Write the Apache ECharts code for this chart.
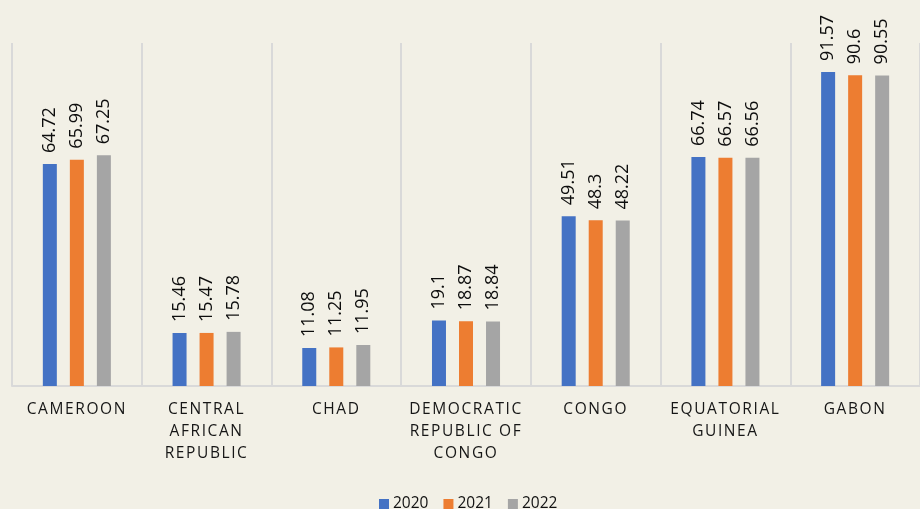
<!DOCTYPE html>
<html>
<head>
<meta charset="utf-8">
<script src="https://cdn.jsdelivr.net/npm/echarts@6/dist/echarts.min.js"></script>
<style>
html,body{margin:0;padding:0;background:#f2f0e6;}
#chart{width:920px;height:509px;}
</style>
</head>
<body>
<div id="chart"></div>
<script>
var categories = ['CAMEROON', 'CENTRAL\nAFRICAN\nREPUBLIC', 'CHAD', 'DEMOCRATIC\nREPUBLIC OF\nCONGO', 'CONGO', 'EQUATORIAL\nGUINEA', 'GABON'];
var years = ['2020', '2021', '2022'];
var values2020 = [64.72, 15.46, 11.08, 19.1, 49.51, 66.74, 91.57];
var values2021 = [65.99, 15.47, 11.25, 18.87, 48.3, 66.57, 90.6];
var values2022 = [67.25, 15.78, 11.95, 18.84, 48.22, 66.56, 90.55];
var seriesValues = [values2020, values2021, values2022];
var colors = ['#4472C4', '#ED7D31', '#A5A5A5'];

// letter spacing for category axis labels only (canvas)
var labelLines = {};
categories.forEach(function (c) { c.split('\n').forEach(function (l) { labelLines[l] = true; }); });
(function () {
  var proto = CanvasRenderingContext2D.prototype;
  var origFill = proto.fillText;
  proto.fillText = function (txt, x, y, maxW) {
    var want = labelLines[txt] ? '1.6px' : '0px';
    if ('letterSpacing' in this && this.letterSpacing !== want) {
      var f = this.font;
      this.letterSpacing = want;
      this.font = f;
    }
    return maxW === undefined ? origFill.call(this, txt, x, y) : origFill.call(this, txt, x, y, maxW);
  };
})();

var chart = echarts.init(document.getElementById('chart'), null, {renderer: 'canvas'});
var FONT = '"Open Sans", "Noto Sans", sans-serif';
chart.setOption({
  backgroundColor: '#f2f0e6',
  animation: false,
  grid: {left: 12, right: -4, top: 43, bottom: 123, containLabel: false},
  legend: {
    data: years,
    left: 379,
    top: 496,
    padding: 0,
    itemWidth: 10,
    itemHeight: 10,
    itemGap: 15,
    icon: 'rect',
    textStyle: {fontFamily: FONT, fontSize: 15.5, lineHeight: 12, color: '#111111', padding: [0, 0, 0, -1]}
  },
  xAxis: {
    type: 'category',
    data: categories,
    boundaryGap: true,
    axisLine: {show: true, lineStyle: {color: '#d9d9d9', width: 2}},
    axisTick: {show: false},
    splitLine: {show: true, lineStyle: {color: '#d9d9d9', width: 2}},
    axisLabel: {
      interval: 0,
      margin: 13,
      fontFamily: FONT,
      fontSize: 15.5,
      lineHeight: 22,
      color: '#161616'
    }
  },
  yAxis: {
    type: 'value',
    min: 0,
    max: 100,
    show: false,
    splitLine: {show: false}
  },
  series: years.map(function (y, i) {
    return {
      name: y,
      type: 'bar',
      data: seriesValues[i],
      barWidth: 14,
      barGap: '93%',
      itemStyle: {color: colors[i]},
      label: {
        show: true,
        position: 'top',
        rotate: 90,
        align: 'left',
        verticalAlign: 'middle',
        distance: 11,
        fontFamily: FONT,
        fontSize: 18,
        color: '#0d0d0d'
      }
    };
  })
});
</script>
</body>
</html>
